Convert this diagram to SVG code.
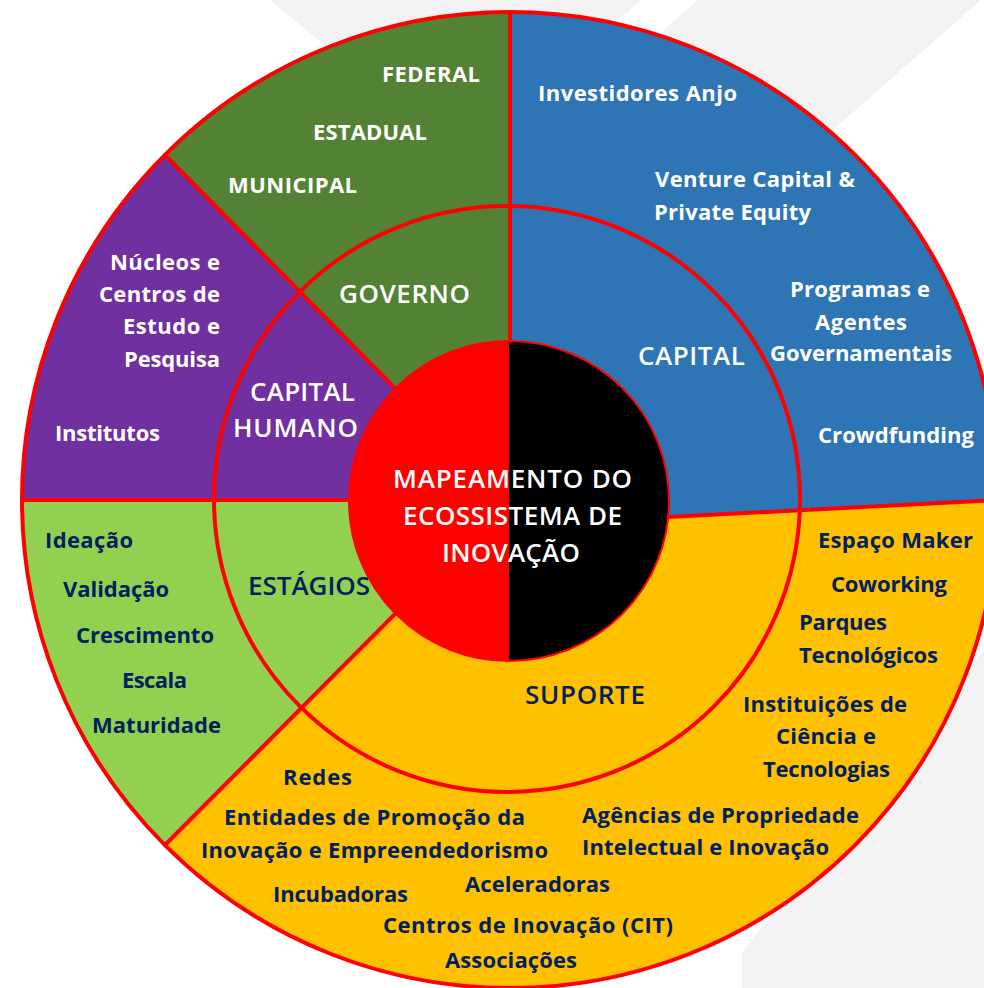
<svg xmlns="http://www.w3.org/2000/svg" width="984" height="988" viewBox="0 0 984 988">
<style>
.lbl{font-family:"Open Sans","Noto Sans","Liberation Sans",sans-serif;font-weight:700;font-size:22px}
.hd{font-family:"Open Sans","Noto Sans","Liberation Sans",sans-serif;font-weight:600;font-size:26px}
.w{fill:#FFFFFF}
.n{fill:#002060}
.div{stroke:#FF0000;stroke-width:4;fill:none;stroke-linecap:round}
</style>
<rect x="0" y="0" width="984" height="988" fill="#FFFFFF"/>
<g id="background" fill="#F2F2F2">
<polygon points="270,0 641,0 560,71 441,141"/>
<polygon points="698,0 981,0 800,159 640,51"/>
<polygon points="984,650 984,988 742,988 742,952"/>
</g>
<g id="governo">
<path d="M510,500 L164.9,154.9 A488,488 0 0 1 510,12 Z" fill="#548235"/>
<text class="lbl w" x="382" y="82" textLength="98" lengthAdjust="spacing">FEDERAL</text>
<text class="lbl w" x="313" y="140" textLength="114" lengthAdjust="spacing">ESTADUAL</text>
<text class="lbl w" x="228" y="193" textLength="129" lengthAdjust="spacing">MUNICIPAL</text>
<text class="hd w" x="339" y="303" textLength="131" lengthAdjust="spacing">GOVERNO</text>
</g>
<g id="capital">
<path d="M510,500 L510,12 A488,488 0 0 1 998,500 L668,517 Z" fill="#2E75B6"/>
<text class="lbl w" x="538" y="101" textLength="199" lengthAdjust="spacing">Investidores Anjo</text>
<text class="lbl w" x="655" y="187" textLength="200" lengthAdjust="spacing">Venture Capital &amp;</text>
<text class="lbl w" x="654" y="220" textLength="157" lengthAdjust="spacing">Private Equity</text>
<text class="lbl w" x="790" y="297" textLength="140" lengthAdjust="spacing">Programas e</text>
<text class="lbl w" x="815" y="330" textLength="92" lengthAdjust="spacing">Agentes</text>
<text class="lbl w" x="770" y="361" textLength="182" lengthAdjust="spacing">Governamentais</text>
<text class="lbl w" x="818" y="443" textLength="156" lengthAdjust="spacing">Crowdfunding</text>
<text class="hd w" x="638" y="365" textLength="107" lengthAdjust="spacing">CAPITAL</text>
</g>
<g id="capital-humano">
<path d="M510,500 L22,500 A488,488 0 0 1 164.9,154.9 Z" fill="#7030A0"/>
<text class="lbl w" x="110" y="270" textLength="110" lengthAdjust="spacing">Núcleos e</text>
<text class="lbl w" x="99" y="302" textLength="121" lengthAdjust="spacing">Centros de</text>
<text class="lbl w" x="123" y="334" textLength="97" lengthAdjust="spacing">Estudo e</text>
<text class="lbl w" x="124" y="367" textLength="96" lengthAdjust="spacing">Pesquisa</text>
<text class="lbl w" x="55" y="441" textLength="105" lengthAdjust="spacing">Institutos</text>
<text class="hd w" x="250" y="401" textLength="105" lengthAdjust="spacing">CAPITAL</text>
<text class="hd w" x="233" y="437" textLength="125" lengthAdjust="spacing">HUMANO</text>
</g>
<g id="estagios">
<path d="M510,500 L164.9,845.1 A488,488 0 0 1 22,500 Z" fill="#92D050"/>
<text class="lbl n" x="45" y="548" textLength="88" lengthAdjust="spacing">Ideação</text>
<text class="lbl n" x="63" y="597" textLength="106" lengthAdjust="spacing">Validação</text>
<text class="lbl n" x="76" y="643" textLength="138" lengthAdjust="spacing">Crescimento</text>
<text class="lbl n" x="122" y="688" textLength="65" lengthAdjust="spacing">Escala</text>
<text class="lbl n" x="92" y="733" textLength="129" lengthAdjust="spacing">Maturidade</text>
<text class="hd n" x="248" y="595" textLength="122" lengthAdjust="spacing">ESTÁGIOS</text>
</g>
<g id="suporte">
<path d="M510,500 L668,517 L998,500 A488,488 0 0 1 164.9,845.1 Z" fill="#FFC000"/>
<text class="lbl n" x="818" y="548" textLength="155" lengthAdjust="spacing">Espaço Maker</text>
<text class="lbl n" x="831" y="592" textLength="116" lengthAdjust="spacing">Coworking</text>
<text class="lbl n" x="799" y="630" textLength="88" lengthAdjust="spacing">Parques</text>
<text class="lbl n" x="799" y="663" textLength="139" lengthAdjust="spacing">Tecnológicos</text>
<text class="lbl n" x="743" y="712" textLength="164" lengthAdjust="spacing">Instituições de</text>
<text class="lbl n" x="776" y="744" textLength="100" lengthAdjust="spacing">Ciência e</text>
<text class="lbl n" x="763" y="777" textLength="127" lengthAdjust="spacing">Tecnologias</text>
<text class="lbl n" x="582" y="823" textLength="277" lengthAdjust="spacing">Agências de Propriedade</text>
<text class="lbl n" x="582" y="855" textLength="247" lengthAdjust="spacing">Intelectual e Inovação</text>
<text class="lbl n" x="283" y="785" textLength="69" lengthAdjust="spacing">Redes</text>
<text class="lbl n" x="224" y="825" textLength="301" lengthAdjust="spacing">Entidades de Promoção da</text>
<text class="lbl n" x="201" y="858" textLength="347" lengthAdjust="spacing">Inovação e Empreendedorismo</text>
<text class="lbl n" x="273" y="902" textLength="135" lengthAdjust="spacing">Incubadoras</text>
<text class="lbl n" x="465" y="892" textLength="145" lengthAdjust="spacing">Aceleradoras</text>
<text class="lbl n" x="383" y="933" textLength="290" lengthAdjust="spacing">Centros de Inovação (CIT)</text>
<text class="lbl n" x="445" y="968" textLength="132" lengthAdjust="spacing">Associações</text>
<text class="hd n" x="525" y="704" textLength="120" lengthAdjust="spacing">SUPORTE</text>
</g>
<g id="connectors">
<circle class="div" cx="510" cy="500" r="488" stroke-width="5"/>
<circle class="div" cx="507" cy="499" r="293"/>
<line class="div" x1="510" y1="12" x2="510" y2="341"/>
<line class="div" x1="165" y1="155" x2="395" y2="388"/>
<line class="div" x1="165" y1="845" x2="395" y2="614"/>
<line class="div" x1="22" y1="500" x2="348" y2="500"/>
<line class="div" x1="668" y1="517" x2="998" y2="500"/>
</g>
<g id="centro">
<path d="M509,341 A160,160 0 0 0 509,661 Z" fill="#FF0000"/>
<path d="M509,341 A160,160 0 0 1 509,661 Z" fill="#000000"/>
<circle cx="509" cy="501" r="160" fill="none" stroke="#FF0000" stroke-width="2"/>
<text class="hd w" x="393" y="488" textLength="239" lengthAdjust="spacing">MAPEAMENTO DO</text>
<text class="hd w" x="403" y="525" textLength="219" lengthAdjust="spacing">ECOSSISTEMA DE</text>
<text class="hd w" x="442" y="562" textLength="138" lengthAdjust="spacing">INOVAÇÃO</text>
</g>
</svg>
